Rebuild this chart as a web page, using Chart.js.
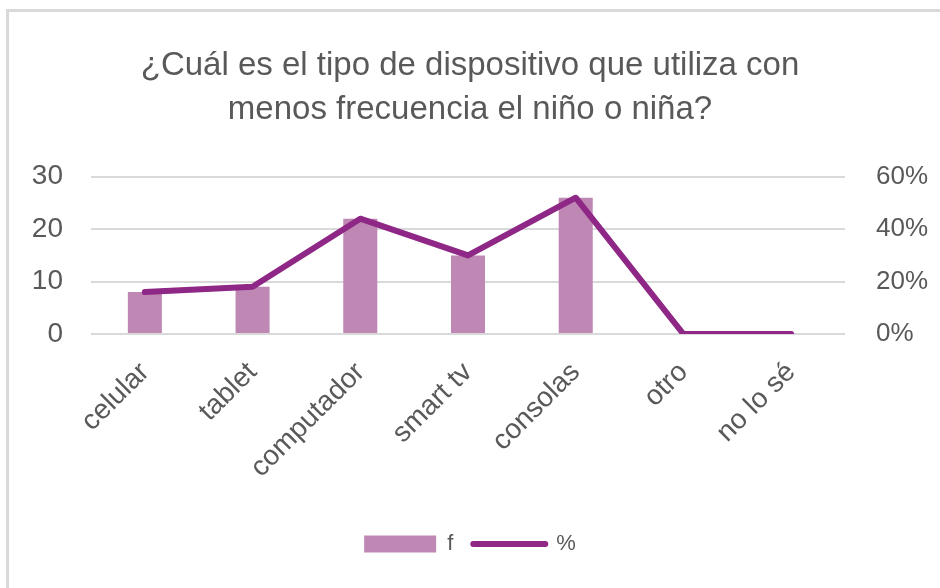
<!DOCTYPE html>
<html>
<head>
<meta charset="utf-8">
<script src="https://cdn.jsdelivr.net/npm/chart.js@4"></script>
<style>
    html, body { margin: 0; padding: 0; background: #fff; overflow: hidden; }
    #wrap { position: relative; width: 940px; height: 588px; }
    #frame { position: absolute; left: 6px; top: 9px; width: 960px; height: 620px; border: 3px solid #d9d9d9; box-sizing: border-box; }
    #chart { position: absolute; left: 0; top: 0; }
</style>
</head>
<body>
<div id="wrap">
    <div id="frame"></div>
    <canvas id="chart" width="940" height="588"></canvas>
</div>
<script>
(function() {
    'use strict';

    // datos
    const categories = ['celular', 'tablet', 'computador', 'smart tv', 'consolas', 'otro', 'no lo sé'];
    const frecuencia = [8, 9, 22, 15, 26, 0, 0];
    const porcentaje = [0.16, 0.18, 0.44, 0.30, 0.52, 0, 0];
    const ticksF = [0, 10, 20, 30];
    const ticksPct = [0, 0.2, 0.4, 0.6];

    const gris = '#595959';
    const fuente = "'Liberation Sans', Arial, sans-serif";

    new Chart(document.getElementById('chart'), {
        type: 'bar',
        data: {
            labels: categories,
            datasets: [{
                label: 'f',
                data: frecuencia,
                backgroundColor: '#be87b4',
                barPercentage: 0.316,
                categoryPercentage: 1,
                yAxisID: 'y',
                order: 1
            }, {
                type: 'line',
                label: '%',
                data: porcentaje,
                borderColor: '#8e2785',
                backgroundColor: '#8e2785',
                borderWidth: 6,
                borderCapStyle: 'round',
                borderJoinStyle: 'round',
                pointRadius: 0,
                tension: 0,
                yAxisID: 'y1',
                order: 0
            }]
        },
        options: {
            responsive: false,
            animation: false,
            layout: { padding: { left: 0, right: 0, top: 0, bottom: 23 } },
            plugins: {
                tooltip: { enabled: false },
                title: {
                    display: true,
                    text: ['¿Cuál es el tipo de dispositivo que utiliza con', 'menos frecuencia el niño o niña?'],
                    color: gris,
                    font: { family: fuente, size: 33, weight: 'normal', lineHeight: 1.36 },
                    padding: { top: 43, bottom: 44 }
                },
                legend: {
                    position: 'bottom',
                    labels: {
                        usePointStyle: true,
                        pointStyleWidth: 72,
                        boxHeight: 17,
                        color: gris,
                        padding: 20,
                        font: { family: fuente, size: 22 },
                        sort: (a, b) => a.datasetIndex - b.datasetIndex,
                        generateLabels: (chart) => chart.data.datasets.map((ds, i) => ({
                            text: ds.label,
                            datasetIndex: i,
                            fillStyle: ds.backgroundColor,
                            strokeStyle: ds.type === 'line' ? ds.borderColor : ds.backgroundColor,
                            lineWidth: ds.type === 'line' ? 6 : 0,
                            lineCap: 'round',
                            pointStyle: ds.type === 'line' ? 'line' : 'rect',
                            fontColor: gris,
                            hidden: false
                        }))
                    }
                }
            },
            scales: {
                x: {
                    grid: { display: false },
                    border: { display: false },
                    ticks: {
                        color: gris,
                        font: { family: fuente, size: 28 },
                        minRotation: 45,
                        maxRotation: 45,
                        padding: 14
                    },
                    afterFit: (scale) => { scale.height = 179; }
                },
                y: {
                    position: 'left',
                    min: 0,
                    max: 30,
                    afterBuildTicks: (scale) => { scale.ticks = ticksF.map(v => ({ value: v })); },
                    grid: { color: '#d9d9d9', lineWidth: 2, drawTicks: false },
                    border: { display: false },
                    ticks: {
                        color: gris,
                        font: { family: fuente, size: 28 },
                        padding: 28
                    },
                    afterFit: (scale) => { scale.width = 91; }
                },
                y1: {
                    position: 'right',
                    min: 0,
                    max: 0.6,
                    afterBuildTicks: (scale) => { scale.ticks = ticksPct.map(v => ({ value: v })); },
                    grid: { display: false, drawTicks: false },
                    border: { display: false },
                    ticks: {
                        color: gris,
                        font: { family: fuente, size: 26 },
                        padding: 31,
                        callback: (v) => Math.round(v * 100) + '%'
                    },
                    afterFit: (scale) => { scale.width = 95; }
                }
            }
        }
    });
})();
</script>
</body>
</html>
